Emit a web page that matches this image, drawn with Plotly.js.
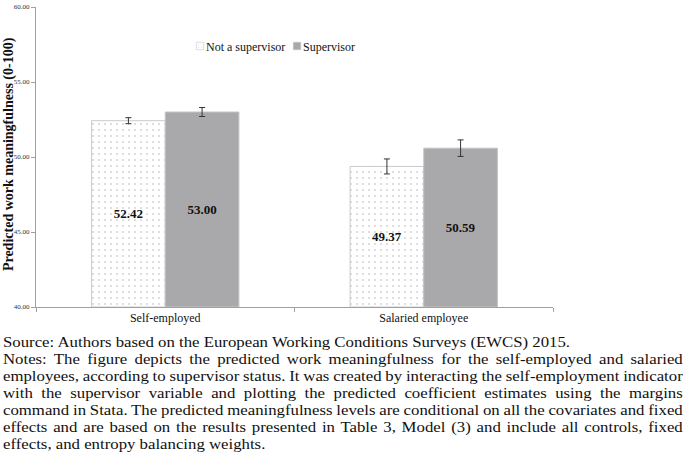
<!DOCTYPE html>
<html>
<head>
<meta charset="utf-8">
<script src="https://cdn.plot.ly/plotly-3.0.1.min.js"></script>
<style>
  body { margin: 0; background: #fff; }
  #chart { position: absolute; left: 0; top: 0; width: 685px; height: 330px; }
  #caption { position: absolute; left: 3px; top: 334px; width: 608px;
    transform: scaleX(1.118); transform-origin: 0 0;
    font-family: "Liberation Serif", "Times New Roman", serif; font-size: 15px;
    line-height: 17px; color: #111; }
  #caption div { white-space: nowrap; text-align: justify; text-align-last: justify; }
  #caption div.last { text-align-last: left; }
  #chart .legendpoints path { transform: translate(34px, 0px) scale(0.62); }
</style>
</head>
<body>
<div id="chart"></div>
<div id="caption"></div>
<script>
let groups = ['Self-employed', 'Salaried employee'];
let notSupervisor = [52.42, 49.37];
let notSupervisorErr = [0.2, 0.5];
let supervisor = [53.00, 50.59];
let supervisorErr = [0.3, 0.55];
let yTicks = [40, 45, 50, 55, 60];
let yBase = 40;

let captionLines = [
    'Source: Authors based on the European Working Conditions Surveys (EWCS) 2015.',
    'Notes: The figure depicts the predicted work meaningfulness for the self-employed and salaried',
    'employees, according to supervisor status. It was created by interacting the self-employment indicator',
    'with the supervisor variable and plotting the predicted coefficient estimates using the margins',
    'command in Stata. The predicted meaningfulness levels are conditional on all the covariates and fixed',
    'effects and are based on the results presented in Table 3, Model (3) and include all controls, fixed',
    'effects, and entropy balancing weights.'
];

let serif = '"Liberation Serif", "Times New Roman", serif';

// bars start at the axis floor so the value labels sit in the middle of the visible bar
function barTrace(name, values, errs, marker) {
    return {
        type: 'bar',
        name: name,
        x: groups,
        base: yBase,
        y: values.map(v => v - yBase),
        customdata: values,
        error_y: {type: 'data', array: errs, visible: true, color: '#333', thickness: 1, width: 3},
        marker: marker,
        texttemplate: '<b>%{customdata:.2f}</b>',
        textposition: 'inside',
        insidetextanchor: 'middle',
        textangle: 0,
        textfont: {family: serif, size: 13, color: '#111'},
        hoverinfo: 'none'
    };
}

let traceNot = barTrace('Not a supervisor', notSupervisor, notSupervisorErr, {
    color: 'white',
    line: {color: '#cacaca', width: 1},
    pattern: {shape: '.', fgcolor: '#d2d2d2', bgcolor: 'white', size: 6, solidity: 0.08}
});

let traceSup = barTrace('Supervisor', supervisor, supervisorErr, {
    color: '#a9a9ab',
    line: {color: '#c4c4c4', width: 1}
});

let layout = {
    width: 685,
    height: 330,
    margin: {l: 36, r: 132, t: 7, b: 23},
    paper_bgcolor: 'white',
    plot_bgcolor: 'white',
    font: {family: serif, color: '#111'},
    barmode: 'group',
    bargap: 0.43,
    bargroupgap: 0,
    showlegend: true,
    legend: {
        orientation: 'h',
        x: 0.2515,
        xanchor: 'left',
        y: 0.87,
        yanchor: 'middle',
        font: {family: serif, size: 12, color: '#111'},
        bgcolor: 'rgba(0,0,0,0)',
        itemwidth: 30,
        entrywidth: 52,
        tracegroupgap: 0
    },
    xaxis: {
        type: 'category',
        showline: true,
        linecolor: '#a0a0a0',
        linewidth: 1,
        ticks: 'outside',
        tickson: 'boundaries',
        ticklen: 4,
        tickcolor: '#a0a0a0',
        tickfont: {family: serif, size: 12, color: '#111'},
        showgrid: false,
        zeroline: false,
        automargin: false
    },
    yaxis: {
        range: [40, 60],
        tickvals: yTicks,
        tickformat: '.2f',
        showline: true,
        linecolor: '#a0a0a0',
        linewidth: 1,
        ticks: 'outside',
        ticklen: 4,
        tickcolor: '#a0a0a0',
        tickfont: {family: serif, size: 7, color: '#333'},
        showgrid: false,
        zeroline: false,
        automargin: false
    },
    annotations: [{
        text: '<b>Predicted work meaningfulness (0-100)</b>',
        xref: 'paper', yref: 'paper',
        x: -0.052, y: 0.51,
        xanchor: 'center', yanchor: 'middle',
        textangle: -90,
        showarrow: false,
        font: {family: serif, size: 14, color: '#111'}
    }]
};

Plotly.newPlot('chart', [traceNot, traceSup], layout, {staticPlot: true});

// caption lines: justified to the full width, tightening word spacing when a line is too long
let cap = document.getElementById('caption');
let capWidth = 608;
captionLines.forEach(function (line, i) {
    let d = document.createElement('div');
    let s = document.createElement('span');
    s.textContent = line;
    d.appendChild(s);
    if (i === 0 || i === captionLines.length - 1) d.className = 'last';
    cap.appendChild(d);
    let w = s.getBoundingClientRect().width / 1.118;
    let spaces = line.split(' ').length - 1;
    if (w > capWidth - 1 && spaces > 0) {
        d.style.wordSpacing = (-(w - capWidth + 2) / spaces) + 'px';
    }
});
</script>
</body>
</html>
